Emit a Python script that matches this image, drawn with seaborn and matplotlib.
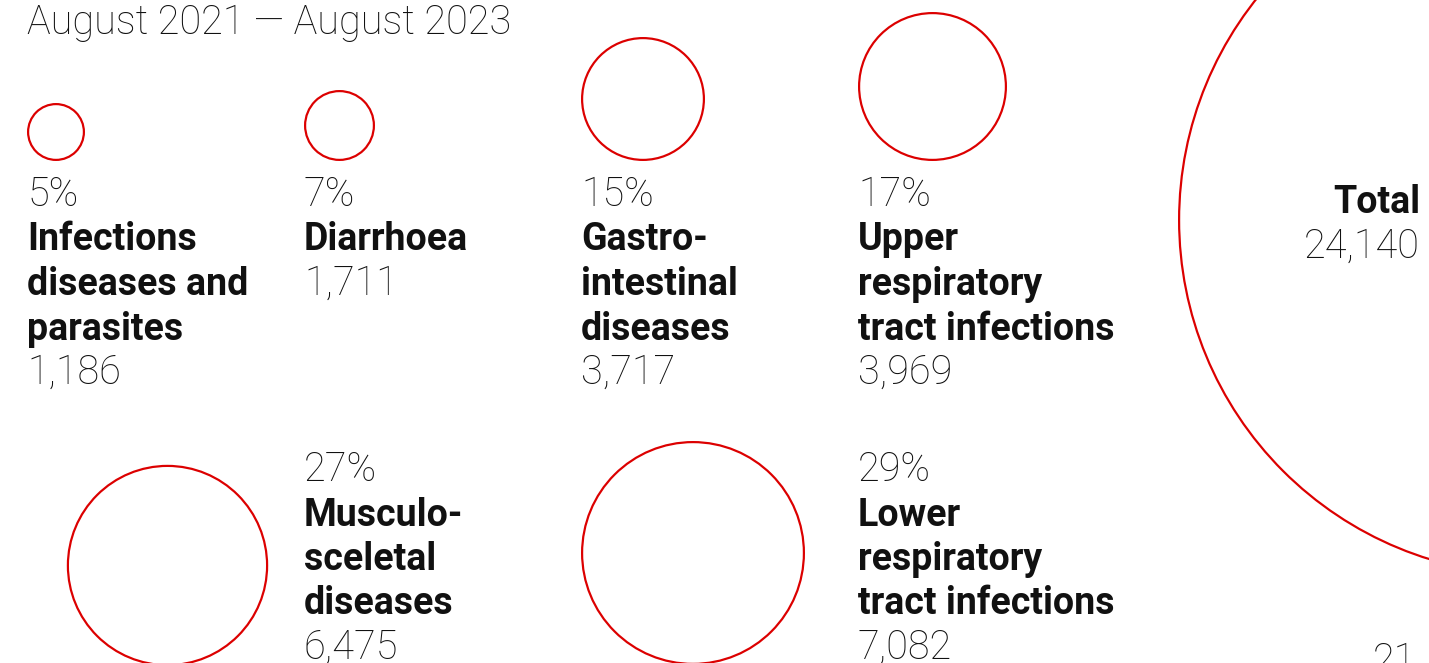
import matplotlib
matplotlib.use("Agg")
import matplotlib.pyplot as plt
import seaborn as sns
import pandas as pd

# data
causes = ["Infections diseases and parasites", "Diarrhoea", "Gastro-intestinal diseases",
          "Upper respiratory tract infections", "Musculo-sceletal diseases",
          "Lower respiratory tract infections", "Total"]
shares = ["5%", "7%", "15%", "17%", "27%", "29%", ""]
counts = [1186, 1711, 3717, 3969, 6475, 7082, 24140]
label_lines = [["Infections", "diseases and", "parasites"], ["Diarrhoea"],
               ["Gastro-", "intestinal", "diseases"],
               ["Upper", "respiratory", "tract infections"],
               ["Musculo-", "sceletal", "diseases"],
               ["Lower", "respiratory", "tract infections"], ["Total"]]
title = "August 2021 \u2014 August 2023"

# layout (pixels)
W, H = 1429, 663
radius_px = [29, 35.5, 62, 74.5, 100.7, 112, 356]
cx = [56, 339.5, 643, 932.5, 167.5, 693, 1534]
cy = [132, 125.5, 99, 86.5, 565.5, 553, 220]
text_x = [27, 304, 581, 858, 304, 858, 1420]
text_y = [206, 206, 206, 206, 481, 481, 213]
line_h = 44.5
red = "#dc0000"
lw_px = 2.2

sns.set_theme(style="white")
plt.rcParams["font.family"] = ["Roboto", "DejaVu Sans"]

fig = plt.figure(figsize=(W / 100, H / 100), dpi=100)
ax = fig.add_axes([0, 0, 1, 1])

df = pd.DataFrame({"cause": causes, "count": counts, "x": cx, "y": cy})
# marker area in points^2 so that the outer edge matches the drawn circle
sizes = {c: ((2 * r - lw_px) * 0.72) ** 2 for c, r in zip(causes, radius_px)}
sns.scatterplot(data=df, x="x", y="y", size="cause", sizes=sizes, legend=False,
                color="white", edgecolor=red, linewidth=lw_px * 0.72, ax=ax, zorder=1)

ax.set_xlim(0, W)
ax.set_ylim(H, 0)
ax.axis("off")

light = dict(fontsize=28.5, fontweight="light", color="#111111", va="baseline")
bold = dict(fontsize=27, fontweight="bold", color="#111111", va="baseline")

ax.text(27, 34, title, ha="left", **light)

for i in range(len(causes)):
    ha = "right" if causes[i] == "Total" else "left"
    y = text_y[i]
    if shares[i]:
        ax.text(text_x[i], y, shares[i], ha=ha, **light)
        y += line_h
    for ln in label_lines[i]:
        ax.text(text_x[i], y, ln, ha=ha, **bold)
        y += line_h
    ax.text(text_x[i], y, f"{counts[i]:,}", ha=ha, **light)

# clipped page number in the corner
ax.text(1416, 672, "21", ha="right", **light)

fig.savefig("out.png", dpi=100, facecolor="white")
